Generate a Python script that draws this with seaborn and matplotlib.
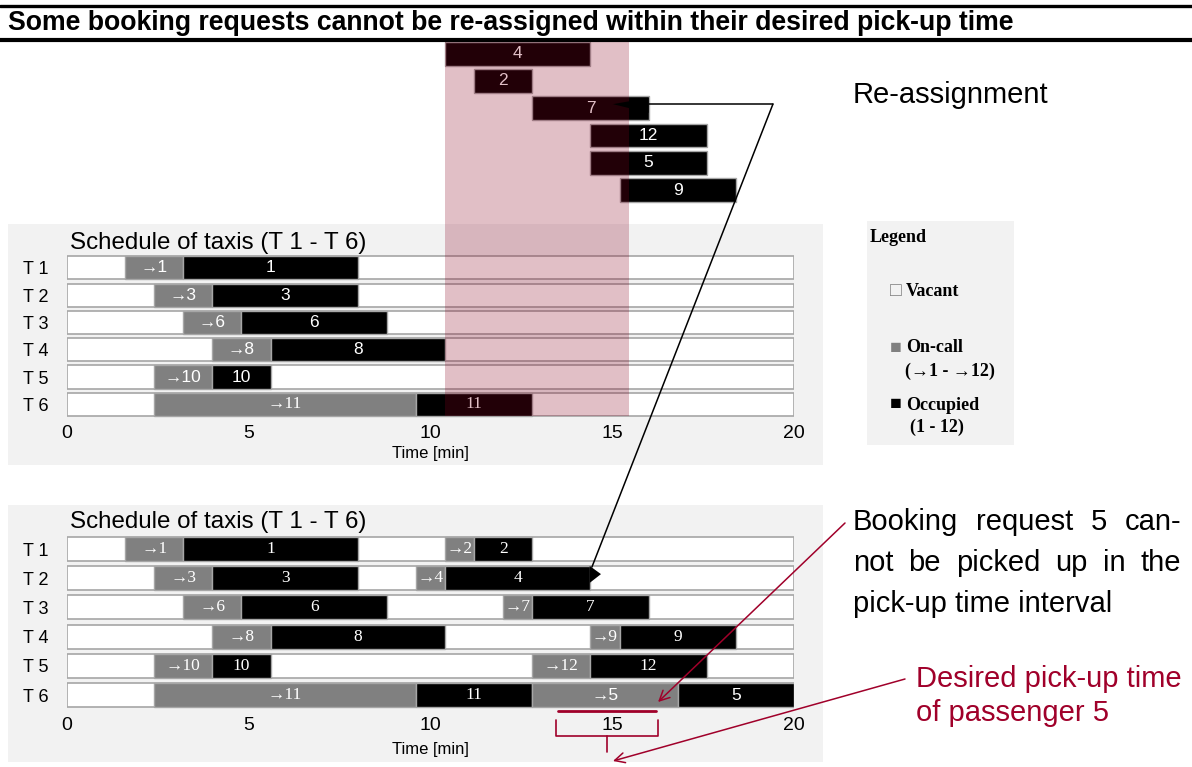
import matplotlib
matplotlib.use("Agg")
import matplotlib.pyplot as plt
import seaborn as sns
import pandas as pd
from matplotlib.patches import Rectangle, Polygon, ConnectionPatch
from matplotlib.lines import Line2D

# ---------------- data ----------------
taxis = ["T 1", "T 2", "T 3", "T 4", "T 5", "T 6"]
horizon = [20, 20, 20, 20, 20, 20]
xticks = [0, 5, 10, 15, 20]

trip1_req = ["1", "3", "6", "8", "10", "11"]
trip1_call = [1.6, 2.4, 3.2, 4.0, 2.4, 2.4]
trip1_pick = [3.2, 4.0, 4.8, 5.6, 4.0, 9.6]
trip1_drop = [8.0, 8.0, 8.8, 10.4, 5.6, 12.8]

req_ids = ["4", "2", "7", "12", "5", "9"]
req_start = [10.4, 11.2, 12.8, 14.4, 14.4, 15.2]
req_end = [14.4, 12.8, 16.0, 17.6, 17.6, 18.4]

trip2_req = ["2", "4", "7", "9", "12", "5"]
trip2_call = [10.4, 9.6, 12.0, 14.4, 12.8, 12.8]
trip2_pick = [11.2, 10.4, 12.8, 15.2, 14.4, 16.8]
trip2_drop = [12.8, 14.4, 16.0, 18.4, 17.6, 20.0]

reassign_window = [10.4, 15.45]
desired_pickup_5 = [13.5, 16.2]

# ---------------- style ----------------
SANS = ["Liberation Sans", "DejaVu Sans"]
SERIF = ["Liberation Serif", "DejaVu Serif"]
sns.set_theme(style="white")
plt.rcParams["font.family"] = SANS
plt.rcParams["text.color"] = "black"
plt.rcParams["axes.labelcolor"] = "black"
plt.rcParams["xtick.color"] = "black"
plt.rcParams["ytick.color"] = "black"

GRAY = "#808080"
EDGE = "#a6a6a6"
PANEL = "#f2f2f2"
RED = "#a0002a"
PINK = (0.54, 0.0, 0.12)

W, H = 1192, 767
def fx(x):
    return x / W
def fy(y):
    return 1 - y / H

fig = plt.figure(figsize=(W / 100, H / 100), dpi=100)
fig.patch.set_facecolor("white")
renderer = fig.canvas.get_renderer()

# title band
fig.add_artist(Line2D([0, 1], [fy(5.7), fy(5.7)], transform=fig.transFigure, color="black", lw=2.4))
fig.add_artist(Line2D([0, 1], [fy(39.5), fy(39.5)], transform=fig.transFigure, color="black", lw=3.0))
fig.text(fx(8), fy(30), "Some booking requests cannot be re-assigned within their desired pick-up time",
         fontsize=19.2, fontweight="bold", ha="left", va="baseline", family=SANS)

# gray panels
for (x0, y0, x1, y1) in [(8, 224, 823, 465), (8, 505, 823, 762), (867, 221, 1014, 445)]:
    fig.add_artist(Rectangle((fx(x0), fy(y1)), (x1 - x0) / W, (y1 - y0) / H, transform=fig.transFigure,
                             facecolor=PANEL, edgecolor="none", zorder=-5))

ax1 = fig.add_axes([fx(67), fy(418), 727 / W, (418 - 40) / H])
ax2 = fig.add_axes([fx(67), fy(709.6), 727 / W, (709.6 - 534.4) / H])

rows = list(range(6))

def draw_schedule(ax, height, trips, fonts):
    vac = pd.DataFrame({"row": rows, "horizon": horizon})
    sns.barplot(data=vac, x="horizon", y="row", orient="h", native_scale=True, color="white",
                saturation=1, edgecolor=EDGE, linewidth=1.2, width=height, errorbar=None, ax=ax)
    for (call, pick, drop, req), fam in zip(trips, fonts):
        ax.barh(rows, [p - c for p, c in zip(pick, call)], left=call, height=height,
                color=GRAY, edgecolor=EDGE, linewidth=1)
        ax.barh(rows, [d - p for d, p in zip(drop, pick)], left=pick, height=height,
                color="black", edgecolor=EDGE, linewidth=1)
        for i in rows:
            ax.text((call[i] + pick[i]) / 2, i, "\u2192" + req[i], ha="center", va="center",
                    color="white", fontsize=12.5, family=fam[i])
            ax.text((pick[i] + drop[i]) / 2, i, req[i], ha="center", va="center",
                    color="white", fontsize=12.5, family=fam[i])
    ax.set_xlim(0, 20)
    ax.set_xticks(xticks)
    ax.set_xticklabels([str(t) for t in xticks], fontsize=14)
    ax.set_yticks(rows)
    ax.set_yticklabels(taxis, fontsize=13)
    ax.tick_params(axis="x", length=0, pad=5)
    ax.tick_params(axis="y", length=0, pad=13)
    ax.set_ylabel("")
    ax.set_xlabel("Time [min]", fontsize=12, labelpad=3)
    for s in ax.spines.values():
        s.set_visible(False)
    ax.patch.set_visible(False)

# ---- top panel: schedule before re-assignment + requests ----
draw_schedule(ax1, 0.85, [(trip1_call, trip1_pick, trip1_drop, trip1_req)],
              [[SANS, SANS, SANS, SANS, SANS, SERIF]])
req_rows = [-7.85, -6.85, -5.85, -4.85, -3.85, -2.85]
ax1.barh(req_rows, [e - s for e, s in zip(req_end, req_start)], left=req_start, height=0.87,
         color="black", edgecolor=EDGE, linewidth=1)
for r, s, e, lab in zip(req_rows, req_start, req_end, req_ids):
    ax1.text((s + e) / 2, r, lab, ha="center", va="center", color="white", fontsize=12.5)
ax1.set_ylim(5.5, -8.35)
ax1.add_patch(Rectangle((reassign_window[0], -8.35), reassign_window[1] - reassign_window[0], 8.35 + 5.42,
                        facecolor=PINK, alpha=0.25, edgecolor="none", zorder=10))
# arrow tail at request 7
ax1.add_patch(Polygon([(16.0, -6.23), (16.0, -5.68), (15.02, -6.0)], closed=True,
                      facecolor="black", edgecolor="none", zorder=11))
ax1.plot([16.0, 19.42], [-6.0, -6.0], color="black", lw=1.1, zorder=11, clip_on=False)

# ---- bottom panel: schedule after re-assignment ----
draw_schedule(ax2, 0.82,
              [(trip1_call, trip1_pick, trip1_drop, trip1_req),
               (trip2_call, trip2_pick, trip2_drop, trip2_req)],
              [[SERIF] * 6, [SERIF, SERIF, SERIF, SERIF, SERIF, SANS]])
ax2.set_ylim(5.5, -0.5)
ax2.xaxis.labelpad = 6
ax2.add_patch(Polygon([(14.38, 0.58), (14.38, 1.16), (14.69, 0.86)], closed=True,
                      facecolor="black", edgecolor="none", zorder=11))

# connector from request 7 to schedule
con = ConnectionPatch(xyA=(19.42, -6.0), coordsA=ax1.transData, xyB=(14.44, 0.62), coordsB=ax2.transData,
                      color="black", lw=1.1, zorder=12)
fig.add_artist(con)

# desired pick-up time marker
ax2.plot(desired_pickup_5, [5.55, 5.55], color=RED, lw=2, clip_on=False, zorder=12)
ax2.plot([13.45, 13.45, 16.26, 16.26], [5.86, 6.4, 6.4, 5.86], color=RED, lw=1.2, clip_on=False, zorder=12)
ax2.plot([14.86, 14.86], [6.4, 6.95], color=RED, lw=1.2, clip_on=False, zorder=12)

a1 = ConnectionPatch(xyA=(845, H - 523), coordsA="figure pixels", xyB=(16.26, 5.24), coordsB=ax2.transData,
                     arrowstyle="->", mutation_scale=18, color=RED, lw=1.1, zorder=12)
a2 = ConnectionPatch(xyA=(905, H - 679), coordsA="figure pixels", xyB=(15.02, 7.26), coordsB=ax2.transData,
                     arrowstyle="->", mutation_scale=18, color=RED, lw=1.1, zorder=12)
fig.add_artist(a1)
fig.add_artist(a2)

# panel titles
fig.text(fx(70), fy(243), "Schedule of taxis (T 1 - T 6)", fontsize=17.4, ha="left", va="center")
fig.text(fx(70), fy(522), "Schedule of taxis (T 1 - T 6)", fontsize=17.4, ha="left", va="center")

# right-hand texts
fig.text(fx(853), fy(103), "Re-assignment", fontsize=21, ha="left", va="baseline")

def justified(words, y, x0, x1, size=21):
    widths = []
    for w in words:
        t = fig.text(0, 0, w, fontsize=size)
        widths.append(t.get_window_extent(renderer).width)
        t.remove()
    gap = (x1 - x0 - sum(widths)) / (len(words) - 1)
    x = x0
    for w, wd in zip(words, widths):
        fig.text(fx(x), fy(y), w, fontsize=size, ha="left", va="baseline")
        x += wd + gap

justified(["Booking", "request", "5", "can-"], 530, 853, 1181)
justified(["not", "be", "picked", "up", "in", "the"], 571, 853, 1181)
fig.text(fx(853), fy(612), "pick-up time interval", fontsize=21, ha="left", va="baseline")
fig.text(fx(916), fy(687), "Desired pick-up time", fontsize=21, ha="left", va="baseline", color=RED)
fig.text(fx(916), fy(721), "of passenger 5", fontsize=21, ha="left", va="baseline", color=RED)

# legend
LF = dict(fontsize=13, fontweight="bold", family=SERIF, va="center", ha="left")
SQ = dict(fontsize=14, family=SERIF, va="center", ha="left")
fig.text(fx(870), fy(237), "Legend", **LF)
fig.text(fx(890), fy(292), "\u25a1", color="#7f7f7f", **SQ)
fig.text(fx(906), fy(292), "Vacant", **LF)
fig.text(fx(890), fy(348), "\u25a0", color=GRAY, **SQ)
fig.text(fx(906), fy(348), "On-call", **LF)
fig.text(fx(905), fy(371), "(\u21921 - \u219212)", **LF)
fig.text(fx(890), fy(405), "\u25a0", color="black", **SQ)
fig.text(fx(906), fy(405), "Occupied", **LF)
fig.text(fx(910), fy(427), "(1 - 12)", **LF)

fig.savefig("out.png", dpi=100)
